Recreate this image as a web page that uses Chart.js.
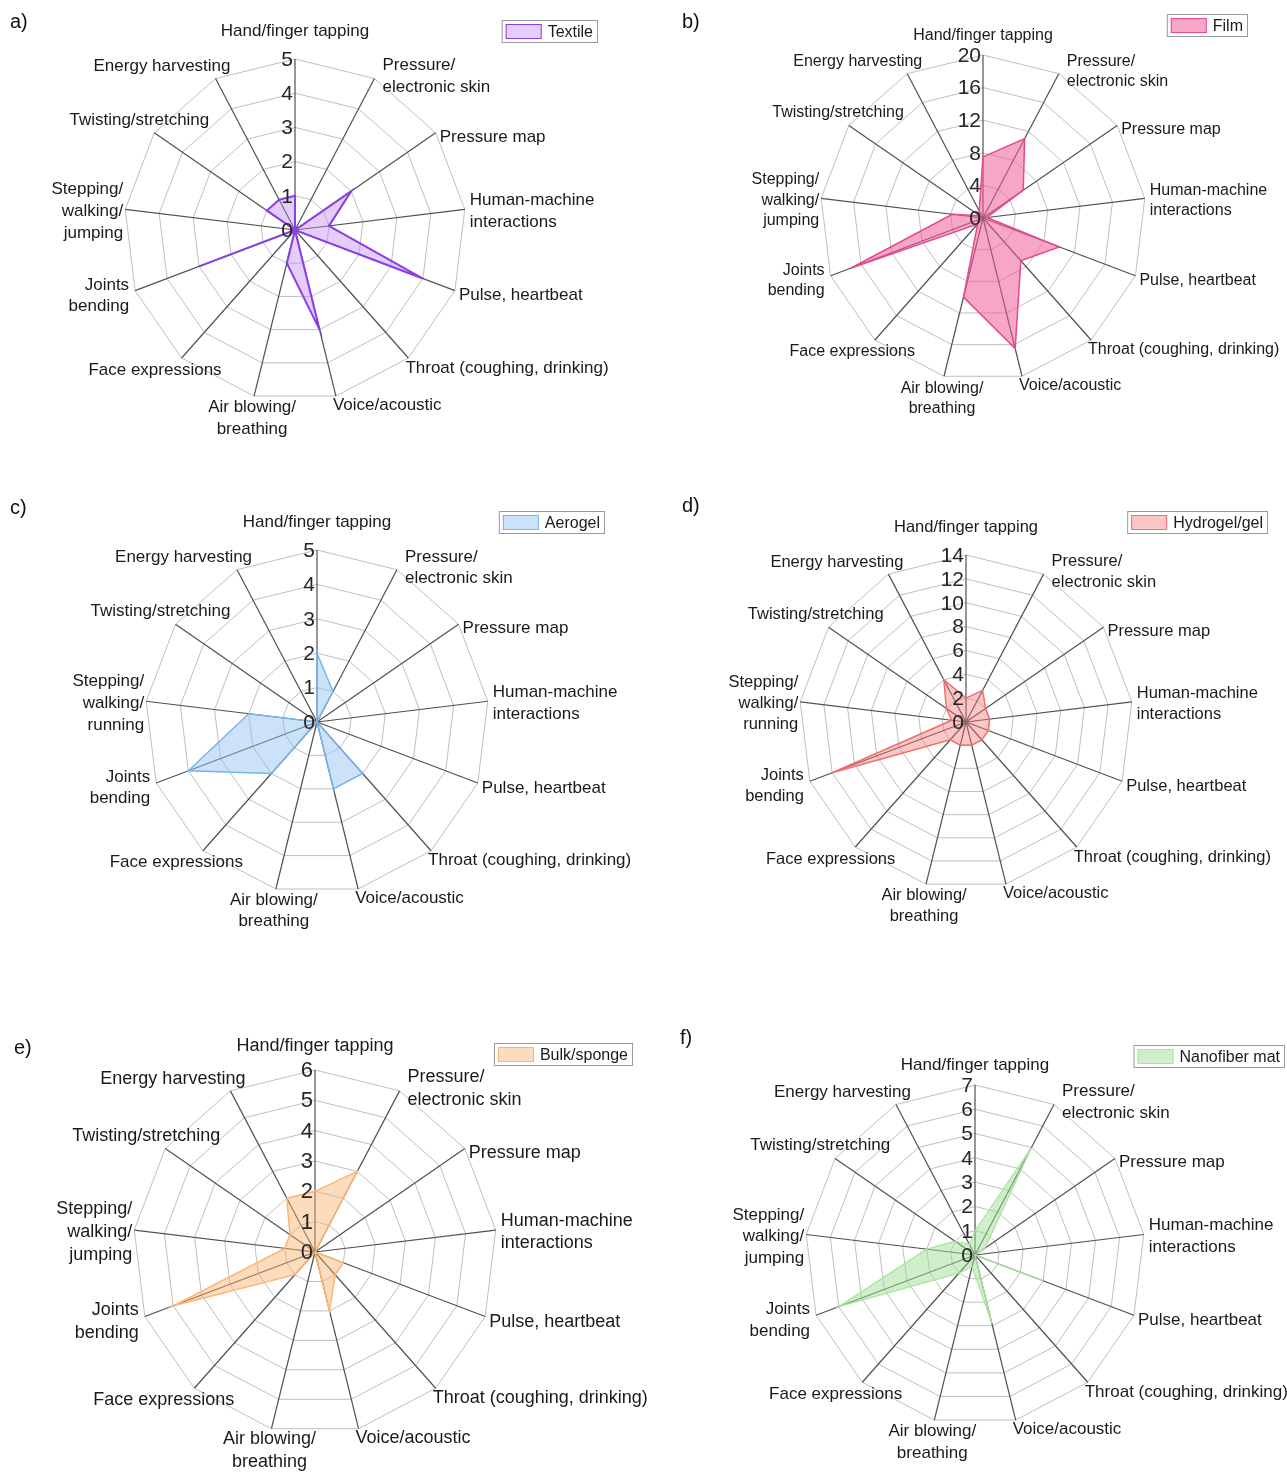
<!DOCTYPE html>
<html>
<head>
<meta charset="utf-8">
<script src="https://cdn.jsdelivr.net/npm/chart.js@4.4.1/dist/chart.umd.min.js"></script>
<style>
  html, body { margin: 0; padding: 0; background: #fff; }
  #wrap { position: relative; width: 1287px; height: 1474px; overflow: hidden; background: #fff; }
  canvas { position: absolute; }
</style>
</head>
<body>
<div id="wrap"></div>
<script>
// ---------- DATA ----------
const categoriesJumping = [
  "Hand/finger tapping", ["Pressure/", "electronic skin"], "Pressure map",
  ["Human-machine", "interactions"], "Pulse, heartbeat", "Throat (coughing, drinking)",
  "Voice/acoustic", ["Air blowing/", "breathing"], "Face expressions",
  ["Joints", "bending"], ["Stepping/", "walking/", "jumping"],
  "Twisting/stretching", "Energy harvesting"
];
const categoriesRunning = [
  "Hand/finger tapping", ["Pressure/", "electronic skin"], "Pressure map",
  ["Human-machine", "interactions"], "Pulse, heartbeat", "Throat (coughing, drinking)",
  "Voice/acoustic", ["Air blowing/", "breathing"], "Face expressions",
  ["Joints", "bending"], ["Stepping/", "walking/", "running"],
  "Twisting/stretching", "Energy harvesting"
];

const seriesNames = ["Textile", "Film", "Aerogel", "Hydrogel/gel", "Bulk/sponge", "Nanofiber mat"];

const textileValues   = [1, 0, 2, 1, 4, 0, 3, 1, 0, 3, 0, 1, 1];
const filmValues      = [7.5, 11, 6, 0.5, 10, 7, 16.5, 10, 1, 17.3, 3.8, 0.5, 1];
const aerogelValues   = [2, 1, 0, 0, 0, 2, 2, 0, 2, 4, 2, 0, 0];
const hydrogelValues  = [2, 3, 2, 2, 2, 2, 2, 2, 2, 12, 1.2, 2, 4];
const bulkValues      = [2, 3, 0, 0, 1, 1, 2, 0, 1, 5, 1, 1, 2];
const nanofiberValues = [1, 5, 0.5, 0, 3, 0, 2.9, 0.5, 1, 6, 2, 1, 0.5];

const axisMax  = [5, 20, 5, 14, 6, 7];
const axisStep = [1, 4, 1, 2, 1, 1];

// ---------- STYLE / LAYOUT ----------
const seriesStyle = [
  { line: "rgb(138,62,230)",  fill: "rgba(190,135,240,0.42)", width: 2 },
  { line: "rgb(232,72,140)",  fill: "rgba(238,92,152,0.55)", width: 1.5 },
  { line: "rgb(122,180,238)", fill: "rgba(140,190,242,0.45)", width: 1.5 },
  { line: "rgb(240,112,112)", fill: "rgba(242,120,120,0.42)", width: 1.5 },
  { line: "rgb(250,182,115)", fill: "rgba(250,178,110,0.45)", width: 1.5 },
  { line: "rgb(170,228,160)", fill: "rgba(160,222,150,0.5)",  width: 1.2 }
];

const panels = [
  { letter: "a)", box: [0, 0, 670, 490],     c: [295, 230],  R: 171, topDy: -28, letterPos: [10, 22],  legend: [598, 20],  labelSize: 17,   tickSize: 21, cats: categoriesJumping },
  { letter: "b)", box: [643, 0, 644, 490],   c: [983, 218],  R: 163, topDy: -19, letterPos: [682, 22], legend: [1248, 14], labelSize: 16,   tickSize: 21, cats: categoriesJumping },
  { letter: "c)", box: [0, 490, 670, 490],   c: [317, 722],  R: 172, topDy: -28, letterPos: [10, 508], legend: [605, 511], labelSize: 17,   tickSize: 21, cats: categoriesRunning },
  { letter: "d)", box: [643, 490, 644, 490], c: [966, 722],  R: 167, topDy: -28, letterPos: [682, 506],legend: [1268, 511],labelSize: 16.5, tickSize: 21, cats: categoriesRunning },
  { letter: "e)", box: [0, 980, 670, 494],   c: [315, 1252], R: 182, topDy: -24, letterPos: [14, 1048],legend: [633, 1043],labelSize: 18,   tickSize: 22, cats: categoriesJumping },
  { letter: "f)", box: [643, 980, 644, 494], c: [975, 1255], R: 170, topDy: -20, letterPos: [680, 1038],legend: [1285, 1045],labelSize: 17,  tickSize: 21, cats: categoriesJumping }
];
const allValues = [textileValues, filmValues, aerogelValues, hydrogelValues, bulkValues, nanofiberValues];

// label placement relative to the end of each spoke (align, dx, dy of block centre)
const labelPlace = [
  { a: "center", dx: 0,  dy: -25 },
  { a: "left",   dx: 8,  dy: -2 },
  { a: "left",   dx: 4,  dy: 4 },
  { a: "left",   dx: 5,  dy: 2 },
  { a: "left",   dx: 4,  dy: 5 },
  { a: "left",   dx: -3, dy: 10 },
  { a: "left",   dx: -3, dy: 9 },
  { a: "center", dx: -2, dy: 22 },
  { a: "right",  dx: 40, dy: 12 },
  { a: "right",  dx: -6, dy: 5 },
  { a: "right",  dx: -2, dy: 2 },
  { a: "right",  dx: 55, dy: -13 },
  { a: "right",  dx: 15, dy: -12 }
];

const FONT = '"Liberation Sans", Arial, Helvetica, sans-serif';

const decor = {
  id: "decor",
  afterDraw(chart, args, o) {
    const s = chart.scales.r;
    const ctx = chart.ctx;
    const off = o.offset;
    ctx.save();
    // tick labels along the first spoke
    ctx.font = o.tickSize + "px " + FONT;
    ctx.fillStyle = "#262626";
    ctx.textAlign = "right";
    ctx.textBaseline = "middle";
    s.ticks.forEach(t => {
      const p = s.getPointPositionForValue(0, t.value);
      ctx.fillText(String(t.label), p.x - 2, p.y + 1);
    });
    // category labels
    ctx.font = o.labelSize + "px " + FONT;
    ctx.fillStyle = "#1a1a1a";
    const lh = o.labelSize * 1.27;
    chart.data.labels.forEach((lab, i) => {
      const lines = Array.isArray(lab) ? lab : [lab];
      const e = s.getPointPosition(i, s.drawingArea);
      const pl = labelPlace[i];
      const dy = i === 0 ? o.topDy : pl.dy;
      ctx.textAlign = pl.a;
      const y0 = e.y + dy - (lines.length - 1) * lh / 2;
      lines.forEach((ln, k) => ctx.fillText(ln, e.x + pl.dx, y0 + k * lh));
    });
    // panel letter
    ctx.font = "20px " + FONT;
    ctx.textAlign = "left";
    ctx.fillStyle = "#111";
    ctx.fillText(o.letter, o.letterPos[0] - off[0], o.letterPos[1] - off[1]);
    // legend box
    const ds = chart.data.datasets[0];
    ctx.font = "16px " + FONT;
    const tw = ctx.measureText(ds.label).width;
    const right = o.legend[0] - off[0], top = o.legend[1] - off[1];
    const w = 4 + 36 + 6 + tw + 5, h = 23;
    const left = right - w;
    ctx.fillStyle = "#fff";
    ctx.fillRect(left, top, w, h);
    ctx.strokeStyle = "#9a9a9a";
    ctx.lineWidth = 1;
    ctx.strokeRect(left + 0.5, top + 0.5, w - 1, h - 1);
    ctx.fillStyle = ds.backgroundColor;
    ctx.fillRect(left + 4, top + 4, 36, h - 8);
    ctx.strokeStyle = ds.borderColor;
    ctx.strokeRect(left + 4.5, top + 4.5, 35, h - 9);
    ctx.fillStyle = "#1a1a1a";
    ctx.textAlign = "left";
    ctx.fillText(ds.label, left + 46, top + h / 2 + 1);
    ctx.restore();
  }
};

const wrap = document.getElementById("wrap");
panels.forEach((p, k) => {
  const [bx, by, bw, bh] = p.box;
  const cv = document.createElement("canvas");
  cv.width = bw; cv.height = bh;
  cv.style.left = bx + "px"; cv.style.top = by + "px";
  cv.style.width = bw + "px"; cv.style.height = bh + "px";
  wrap.appendChild(cv);
  const padL = p.c[0] - p.R - bx, padT = p.c[1] - p.R - by;
  const padR = bx + bw - (p.c[0] + p.R), padB = by + bh - (p.c[1] + p.R);
  const st = seriesStyle[k];
  new Chart(cv.getContext("2d"), {
    type: "radar",
    data: {
      labels: p.cats,
      datasets: [{
        label: seriesNames[k],
        data: allValues[k],
        borderColor: st.line,
        backgroundColor: st.fill,
        borderWidth: st.width,
        pointRadius: 0,
        pointHoverRadius: 0,
        fill: true,
        tension: 0
      }]
    },
    plugins: [decor],
    options: {
      responsive: false,
      animation: false,
      devicePixelRatio: 1,
      layout: { padding: { left: padL, top: padT, right: padR, bottom: padB } },
      plugins: {
        legend: { display: false },
        tooltip: { enabled: false },
        decor: { offset: [bx, by], letter: p.letter, letterPos: p.letterPos, legend: p.legend, labelSize: p.labelSize, tickSize: p.tickSize, topDy: p.topDy }
      },
      scales: {
        r: {
          min: 0, max: axisMax[k],
          ticks: { display: false, stepSize: axisStep[k] },
          grid: { color: "#bfbfbf", lineWidth: 1 },
          angleLines: { color: "#505050", lineWidth: 1.2 },
          pointLabels: { display: false }
        }
      }
    }
  });
});
</script>
</body>
</html>
